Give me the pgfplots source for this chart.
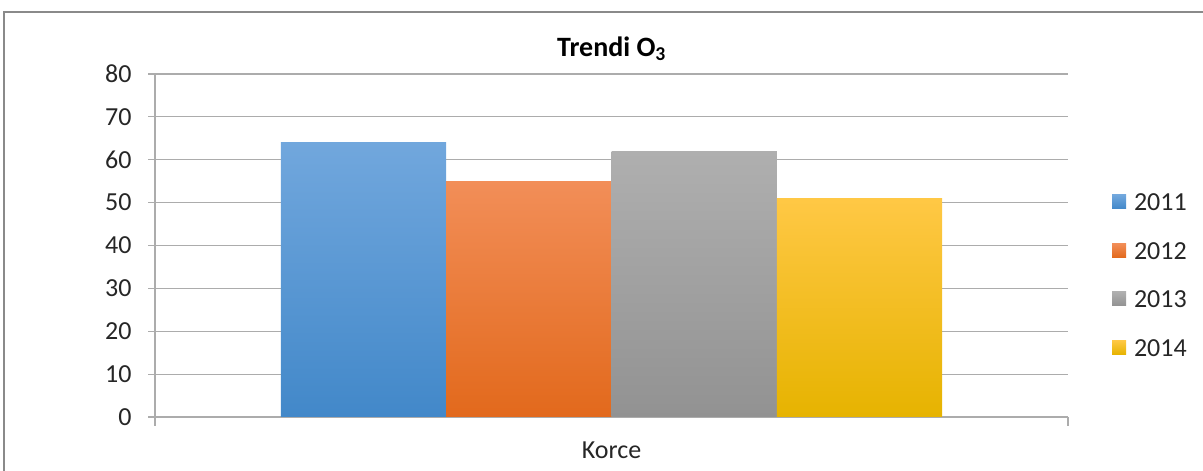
\documentclass[border=0pt]{standalone}
\usepackage{pgfplots}
\pgfplotsset{compat=1.18}
\usepackage{fontspec}
\setmainfont{Carlito}
\definecolor{gridc}{HTML}{ACACAC}
\definecolor{txt}{HTML}{262626}
\definecolor{bluet}{HTML}{71A7DD}\definecolor{blueb}{HTML}{4288C9}
\definecolor{oranget}{HTML}{F28E58}\definecolor{orangeb}{HTML}{E2691C}
\definecolor{grayt}{HTML}{AFAFAF}\definecolor{grayb}{HTML}{929292}
\definecolor{yellowt}{HTML}{FFC845}\definecolor{yellowb}{HTML}{E6B300}
\begin{document}
\begin{tikzpicture}
\draw[color=gridc!80!black, line width=1.2pt] (4pt,0pt) -- (4pt,459pt) -- (1203pt,459pt);
\begin{axis}[
  scale only axis, width=913pt, height=343pt,
  at={(155pt,54pt)}, anchor=south west,
  xmin=-0.5, xmax=0.5, ymin=0, ymax=80,
  ytick={0,10,...,80},
  xtick={0}, xticklabels={Korce},
  axis x line*=bottom, axis y line*=left,
  axis line style={draw=gridc, line width=1.2pt},
  ymajorgrids, grid style={draw=gridc, line width=1.2pt},
  major x tick style={draw=none},
  y tick style={draw=gridc, line width=1.2pt},
  tick align=outside, major tick length=7pt,
  extra x ticks={-0.5,0.5}, extra x tick labels={},
  extra x tick style={major x tick style={draw=gridc, line width=1.2pt}, major tick length=9pt, grid=none},
  /pgf/number format/assume math mode=true,
  tick label style={font=\fontsize{26}{30}\selectfont, text=txt},
  yticklabel style={xshift=-13pt},
  xticklabel style={anchor=base, yshift=-35pt},
  title={\bfseries Trendi O\textsubscript{3}},
  title style={font=\fontsize{28}{32}\selectfont, text=black, at={(0.5,1)}, anchor=base, yshift=12pt},
  ybar, bar width=0.181,
  legend style={at={(1.048,0.415)}, anchor=west, draw=none, fill=none,
    font=\fontsize{26}{30}\selectfont, text=txt, inner sep=0pt,
    row sep=30.5pt, legend cell align=left,
    nodes={inner sep=0pt, text height=18pt, text depth=0pt},
    /tikz/every odd column/.append style={column sep=8pt}},
  legend image code/.code={\path[#1, draw=none] (0pt,-7pt) rectangle (14pt,7pt);},
]
\addplot[draw=none, top color=bluet, bottom color=blueb, bar shift=-0.2715] coordinates {(0,64)};
\addplot[draw=none, top color=oranget, bottom color=orangeb, bar shift=-0.0905] coordinates {(0,55)};
\addplot[draw=none, top color=grayt, bottom color=grayb, bar shift=0.0905] coordinates {(0,62)};
\addplot[draw=none, top color=yellowt, bottom color=yellowb, bar shift=0.2715] coordinates {(0,51)};
\legend{2011,2012,2013,2014}
\end{axis}
\pgfresetboundingbox
\useasboundingbox (0,0) rectangle (1203pt,471pt);
\end{tikzpicture}
\end{document}
